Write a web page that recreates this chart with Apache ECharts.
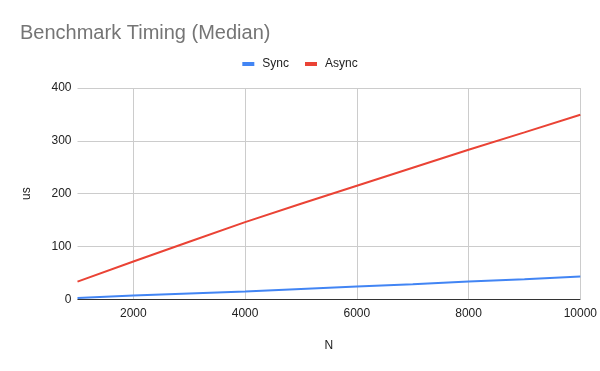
<!DOCTYPE html>
<html>
<head>
<meta charset="utf-8">
<script src="https://cdn.jsdelivr.net/npm/echarts@6/dist/echarts.min.js"></script>
<style>html,body{margin:0;padding:0;background:#fff}#c{width:600px;height:371px}</style>
</head>
<body>
<div id="c"></div>
<script>
const nValues = [1000, 2000, 3000, 4000, 5000, 6000, 7000, 8000, 9000, 10000];
const syncValues = [2.5, 7, 11, 15, 19.5, 24, 28.5, 33.5, 38, 43];
const asyncValues = [33.5, 71.5, 109, 146, 181, 215, 249, 283, 316, 349.5];
const seriesNames = ['Sync', 'Async'];
const titleText = 'Benchmark Timing (Median)';

const chart = echarts.init(document.getElementById('c'), null, {renderer: 'canvas'});
const font = '"Liberation Sans", Arial, sans-serif';
chart.setOption({
  animation: false,
  title: {
    text: titleText, left: 15, top: 18,
    textStyle: {fontFamily: font, fontSize: 20, fontWeight: 'normal', color: '#757575'}
  },
  legend: {
    top: 53, left: 'center', itemWidth: 12, itemHeight: 4, itemGap: 16,
    icon: 'rect',
    textStyle: {fontFamily: font, fontSize: 12, color: '#222', padding: [0, 0, 0, 3]},
    data: seriesNames
  },
  grid: {left: 77.5, right: 19.3, top: 88, bottom: 71.7, containLabel: false},
  xAxis: {
    type: 'value', min: 1000, max: 10000, interval: 1000,
    name: 'N', nameLocation: 'middle', nameGap: 40,
    nameTextStyle: {fontFamily: font, fontSize: 12, color: '#222'},
    axisLine: {show: false}, axisTick: {show: false},
    axisLabel: {
      fontFamily: font, fontSize: 12, color: '#222', margin: 8,
      formatter: v => (v % 2000 === 0 ? String(v) : '')
    },
    splitLine: {show: true, showMinLine: false, lineStyle: {color: ['#cccccc', 'rgba(0,0,0,0)'], width: 1}}
  },
  yAxis: {
    type: 'value', min: 0, max: 400, interval: 100,
    name: 'us', nameLocation: 'middle', nameGap: 45, nameRotate: 90,
    nameTextStyle: {fontFamily: font, fontSize: 12, color: '#222'},
    axisLine: {show: false}, axisTick: {show: false},
    axisLabel: {fontFamily: font, fontSize: 12, color: '#222', margin: 6},
    splitLine: {lineStyle: {color: '#cccccc', width: 1}}
  },
  series: [
    {
      name: seriesNames[0], type: 'line', showSymbol: false, symbol: 'none',
      data: nValues.map((n, i) => [n, syncValues[i]]),
      lineStyle: {color: '#4285F4', width: 2}, itemStyle: {color: '#4285F4'}, z: 3,
      markLine: {
        silent: true, symbol: 'none', label: {show: false},
        lineStyle: {color: '#333333', width: 1, type: 'solid'},
        data: [{yAxis: 0}], z: 1
      }
    },
    {
      name: seriesNames[1], type: 'line', showSymbol: false, symbol: 'none',
      data: nValues.map((n, i) => [n, asyncValues[i]]),
      lineStyle: {color: '#EA4335', width: 2}, itemStyle: {color: '#EA4335'}, z: 3
    }
  ]
});
</script>
</body>
</html>
